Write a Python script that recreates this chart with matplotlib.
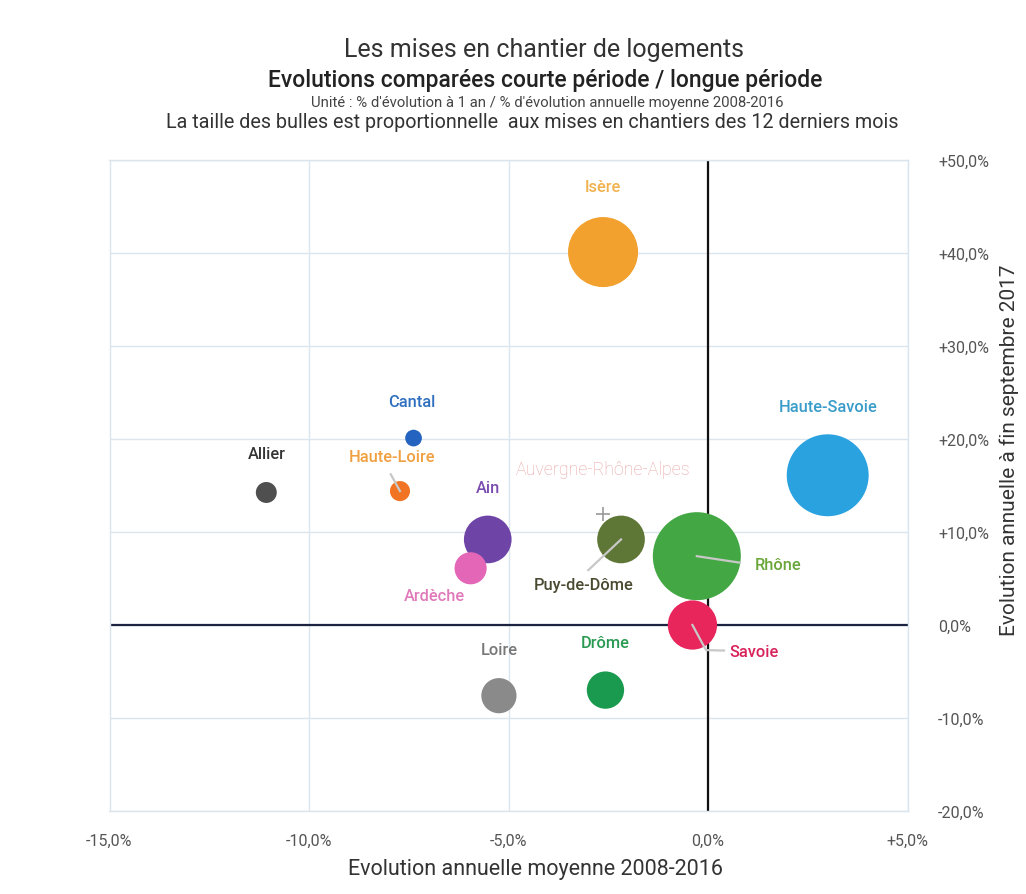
import matplotlib
matplotlib.use("Agg")
import matplotlib.pyplot as plt
from matplotlib.ticker import FuncFormatter
import numpy as np

plt.rcParams['font.family'] = ['Roboto', 'DejaVu Sans']

# ---- data ----
departements = ["Isère", "Haute-Savoie", "Rhône", "Savoie", "Puy-de-Dôme", "Ain",
                "Ardèche", "Drôme", "Loire", "Cantal", "Haute-Loire", "Allier"]
evol_longue = [-2.63, 3.0, -0.28, -0.39, -2.18, -5.52, -5.95, -2.57, -5.24, -7.38, -7.72, -11.07]
evol_courte = [40.1, 16.1, 7.4, 0.0, 9.2, 9.2, 6.1, -7.0, -7.6, 20.1, 14.4, 14.25]
mises_12m = [9500, 13000, 15000, 4700, 4400, 4400, 2000, 2700, 2400, 540, 780, 850]

region = "Auvergne-Rhône-Alpes"
region_longue = -2.63
region_courte = 11.9

x_ticks = [-15, -10, -5, 0, 5]
y_ticks = [-20, -10, 0, 10, 20, 30, 40, 50]

# ---- styles ----
bubble_colors = {
    "Isère": "#f2a12e", "Haute-Savoie": "#2aa2e0", "Rhône": "#43a843",
    "Savoie": "#e8265c", "Puy-de-Dôme": "#5e7636", "Ain": "#6e44a6",
    "Ardèche": "#e466b6", "Drôme": "#1a9a4e", "Loire": "#8a8a8a",
    "Cantal": "#2463bf", "Haute-Loire": "#f07424", "Allier": "#4f4f4f",
}
label_colors = {
    "Isère": "#f0b24e", "Haute-Savoie": "#3a9cc8", "Rhône": "#6aa63a",
    "Savoie": "#d8235a", "Puy-de-Dôme": "#4a4a30", "Ain": "#7a4cb0",
    "Ardèche": "#e07ab8", "Drôme": "#2a9a52", "Loire": "#777777",
    "Cantal": "#2f6fc0", "Haute-Loire": "#f0a040", "Allier": "#333333",
}
# label positions (data units) for layout
label_pos = {
    "Isère": (-2.63, 47.1), "Haute-Savoie": (3.0, 23.5), "Rhône": (1.75, 6.5),
    "Savoie": (1.15, -2.8), "Puy-de-Dôme": (-3.12, 4.4), "Ain": (-5.52, 14.8),
    "Ardèche": (-6.85, 3.2), "Drôme": (-2.57, -1.9), "Loire": (-5.24, -2.6),
    "Cantal": (-7.42, 24.0), "Haute-Loire": (-7.93, 18.1), "Allier": (-11.07, 18.4),
}
leaders = {
    "Rhône": [(-0.28, 7.4), (0.8, 6.7)],
    "Puy-de-Dôme": [(-2.18, 9.2), (-3.0, 5.9)],
    "Savoie": [(-0.39, 0.0), (-0.05, -2.7), (0.4, -2.75)],
    "Haute-Loire": [(-7.72, 14.4), (-7.95, 16.2)],
}

W, H, DPI = 1026, 895, 100
fig = plt.figure(figsize=(W / DPI, H / DPI), dpi=DPI)
fig.patch.set_facecolor("white")
ax = fig.add_axes([109.5 / W, 1 - 812 / H, (907.5 - 109.5) / W, (812 - 161) / H])

ax.set_xlim(-15, 5)
ax.set_ylim(-20, 50)
ax.set_xticks(x_ticks)
ax.set_yticks(y_ticks)
ax.grid(True, color="#dbe5ee", linewidth=1.0)
ax.set_axisbelow(True)
for sp in ax.spines.values():
    sp.set_color("#dbe5ee")
    sp.set_linewidth(1.0)

ax.axvline(0, color="#111111", linewidth=1.6, zorder=1)
ax.axhline(0, color="#1b2340", linewidth=1.6, zorder=1)


def fmt(v, _):
    s = f"{v:.1f}".replace(".", ",") + "%"
    if v > 0:
        s = "+" + s
    return s


ax.xaxis.set_major_formatter(FuncFormatter(fmt))
ax.yaxis.set_major_formatter(FuncFormatter(fmt))
ax.yaxis.tick_right()
ax.tick_params(axis="both", length=0, labelsize=11.5, labelcolor="#555555")
ax.tick_params(axis="x", pad=16)
ax.tick_params(axis="y", pad=22)

# bubbles: area proportional to mises en chantier
sizes = [0.2676 * v for v in mises_12m]
cols = [bubble_colors[d] for d in departements]
ax.scatter(evol_longue, evol_courte, s=sizes, c=cols, edgecolors="none", zorder=3)

for d in departements:
    if d in leaders:
        pts = np.array(leaders[d])
        ax.plot(pts[:, 0], pts[:, 1], color="#c8c8c8", linewidth=1.6, zorder=4)
    lx, ly = label_pos[d]
    ax.text(lx, ly, d, color=label_colors[d], fontsize=11.8, fontweight="medium",
            ha="center", va="center", zorder=5)

# region marker & label
ax.scatter([region_longue], [region_courte], marker="+", s=90, c="#9a9a9a",
           linewidths=1.2, zorder=4)
ax.text(-2.63, 16.8, region, color="#e8a3a3", fontsize=12.8, fontweight="light",
        ha="center", va="center", zorder=5)

# axis titles
fig.text(535 / W, 1 - 870 / H, "Evolution annuelle moyenne 2008-2016",
         fontsize=15.5, color="#333333", ha="center", va="center")
fig.text(1009 / W, 1 - 450 / H, "Evolution annuelle à fin septembre 2017",
         fontsize=15, color="#333333", ha="center", va="center", rotation=90)

# titles
fig.text(544 / W, 1 - 50 / H, "Les mises en chantier de logements",
         fontsize=18, color="#333333", ha="center", va="center")
fig.text(545 / W, 1 - 80 / H, "Evolutions comparées courte période / longue période",
         fontsize=16.5, color="#222222", ha="center", va="center", fontweight="medium")
fig.text(547 / W, 1 - 103 / H,
         "Unité : % d'évolution à 1 an / % d'évolution annuelle moyenne 2008-2016",
         fontsize=10.7, color="#444444", ha="center", va="center")
fig.text(532 / W, 1 - 123 / H,
         "La taille des bulles est proportionnelle  aux mises en chantiers des 12 derniers mois",
         fontsize=14.2, color="#333333", ha="center", va="center")

fig.savefig("out.png", dpi=DPI)
